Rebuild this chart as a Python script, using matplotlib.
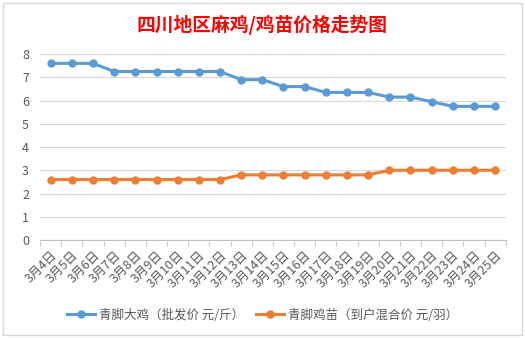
import matplotlib.pyplot as plt
import numpy as np

plt.rcParams['font.family'] = ['Noto Sans CJK SC', 'DejaVu Sans']

dates = ['3月%d日' % d for d in range(4, 26)]
adult_price = [7.6, 7.6, 7.6, 7.25, 7.25, 7.25, 7.25, 7.25, 7.25, 6.9, 6.9,
               6.6, 6.6, 6.35, 6.35, 6.35, 6.15, 6.15, 5.95, 5.75, 5.75, 5.75]
chick_price = [2.6, 2.6, 2.6, 2.6, 2.6, 2.6, 2.6, 2.6, 2.6, 2.8, 2.8,
               2.8, 2.8, 2.8, 2.8, 2.8, 3.0, 3.0, 3.0, 3.0, 3.0, 3.0]
series_names = ['青脚大鸡（批发价 元/斤）', '青脚鸡苗（到户混合价 元/羽）']

fig = plt.figure(figsize=(5.25, 3.38), dpi=100)
ax = fig.add_axes([0.0764, 0.29, 0.8868, 0.55])

x = np.arange(len(dates))
ax.plot(x, adult_price, color='#5B9BD5', lw=2.2, marker='o', ms=5, label=series_names[0])
ax.plot(x, chick_price, color='#ED7D31', lw=2.2, marker='o', ms=5, label=series_names[1])

ax.set_xlim(-0.5, len(dates) - 0.5)
ax.set_ylim(0, 8)
ax.set_yticks(range(0, 9))
ax.grid(axis='y', color='#D9D9D9', lw=0.8)
ax.set_axisbelow(True)
for s in ['top', 'right', 'left']:
    ax.spines[s].set_visible(False)
ax.spines['bottom'].set_color('#BFBFBF')

ax.set_xticks(x)
ax.set_xticklabels(dates, rotation=45, ha='right', rotation_mode='anchor', fontsize=9, color='#595959')
ax.tick_params(axis='x', length=0, pad=6)
ax.set_xticks(np.arange(-0.5, len(dates)), minor=True)
ax.tick_params(axis='x', which='minor', length=4, color='#BFBFBF')
ax.tick_params(axis='y', length=0, labelsize=9, labelcolor='#595959', pad=8)

fig.text(0.5, 0.925, '四川地区麻鸡/鸡苗价格走势图', ha='center', va='center',
         fontsize=13.5, fontweight='bold', color='red')

fig.legend(loc='center', bbox_to_anchor=(0.5, 0.068), ncol=2, frameon=False,
           fontsize=9, labelcolor='#595959', handlelength=2.2, columnspacing=1.0,
           handletextpad=0.3)

fig.patches.append(plt.Rectangle((0.005, 0.01), 0.99, 0.98, transform=fig.transFigure,
                                 fill=False, edgecolor='#D9D9D9', lw=1))

plt.savefig('out.png', dpi=100)
